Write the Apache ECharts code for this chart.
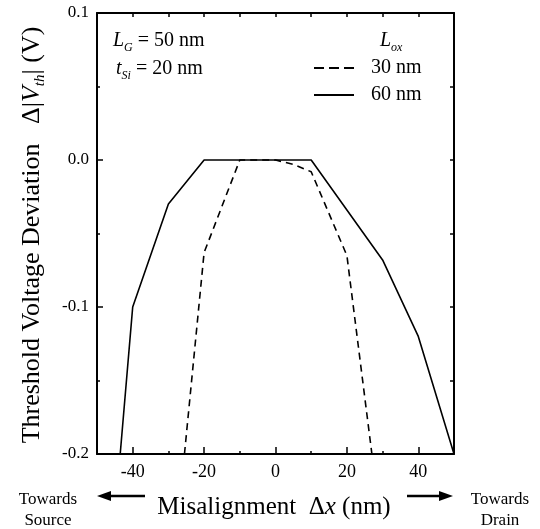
<!DOCTYPE html>
<html><head><meta charset="utf-8">
<script src="https://cdn.jsdelivr.net/npm/echarts@6/dist/echarts.min.js"></script>
<style>html,body{margin:0;padding:0;background:#fff}#c{width:540px;height:529px}</style>
</head><body><div id="c"></div>
<script>
const xTickLabels = [-40, -20, 0, 20, 40];
const yTickLabels = [0.1, 0, -0.1, -0.2];
const seriesNames = ['30 nm', '60 nm'];
const dashX = [-25.5, -20, -10, 0, 5, 10, 20, 27];
const dashY = [-0.2, -0.063, 0, 0, -0.003, -0.008, -0.065, -0.2];
const solidX = [-43.5, -40, -30, -20, -10, 0, 10, 30, 40, 50];
const solidY = [-0.2, -0.1, -0.03, 0, 0, 0, 0, -0.068, -0.12, -0.2];

const F = 'Liberation Serif';
const K = '#000';
const zip = (a, b) => a.map((v, i) => [v, b[i]]);

const chart = echarts.init(document.getElementById('c'), null, {renderer: 'canvas'});
const line = {onZero: false, lineStyle: {color: K, width: 2}};
const tick = (len, extra) => Object.assign({inside: true, length: len, lineStyle: {color: K, width: 1.5}}, extra || {});

chart.setOption({
  animation: false,
  backgroundColor: '#fff',
  grid: {left: 97, right: 86, top: 13, bottom: 75},
  xAxis: [
    {type: 'value', position: 'bottom', min: -50, max: 50, interval: 10,
     axisLine: line, axisTick: tick(3), splitLine: {show: false},
     axisLabel: {customValues: xTickLabels, fontFamily: F, fontSize: 18, color: K, margin: 9}},
    {type: 'value', position: 'top', min: -50, max: 50, interval: 10,
     axisLine: line, axisTick: tick(4), splitLine: {show: false}, axisLabel: {show: false}},
    {type: 'value', position: 'bottom', min: -50, max: 50, interval: 10,
     axisLine: {show: false, onZero: false}, axisTick: tick(7, {customValues: xTickLabels}),
     splitLine: {show: false}, axisLabel: {show: false}}
  ],
  yAxis: [
    {type: 'value', position: 'left', min: -0.2, max: 0.1, interval: 0.05,
     axisLine: line, axisTick: tick(3), splitLine: {show: false},
     axisLabel: {customValues: yTickLabels, formatter: v => v.toFixed(1), fontFamily: F, fontSize: 17, color: K, margin: 8}},
    {type: 'value', position: 'right', min: -0.2, max: 0.1, interval: 0.05,
     axisLine: line, axisTick: tick(4), splitLine: {show: false}, axisLabel: {show: false}},
    {type: 'value', position: 'left', min: -0.2, max: 0.1, interval: 0.05,
     axisLine: {show: false, onZero: false}, axisTick: tick(6, {customValues: yTickLabels}),
     splitLine: {show: false}, axisLabel: {show: false}}
  ],
  legend: {
    orient: 'vertical', left: 308, top: 53, itemWidth: 40, itemHeight: 14, itemGap: 7,
    itemStyle: {opacity: 0},
    textStyle: {fontFamily: F, fontSize: 20, color: K, padding: [0, 0, 0, 12]},
    data: [
      {name: seriesNames[0], lineStyle: {type: [10, 5], width: 2}},
      {name: seriesNames[1], lineStyle: {width: 2}}
    ]
  },
  series: [
    {name: seriesNames[0], type: 'line', xAxisIndex: 0, yAxisIndex: 0, symbol: 'none',
     lineStyle: {color: K, width: 1.6, type: [7, 5]}, itemStyle: {color: K}, data: zip(dashX, dashY)},
    {name: seriesNames[1], type: 'line', xAxisIndex: 0, yAxisIndex: 0, symbol: 'none',
     lineStyle: {color: K, width: 1.6}, itemStyle: {color: K}, data: zip(solidX, solidY)}
  ],
  graphic: [
    {type: 'text', x: 32, y: 235, rotation: Math.PI / 2,
     style: {text: '{n|Threshold Voltage Deviation   Δ|}{i|V}{s|th}{n|| (V)}', align: 'center', verticalAlign: 'middle',
       rich: {
         n: {fontFamily: F, fontSize: 26, lineHeight: 32, fill: K},
         i: {fontFamily: F, fontSize: 26, fontStyle: 'italic', lineHeight: 32, fill: K},
         s: {fontFamily: F, fontSize: 15, fontStyle: 'italic', lineHeight: 13, verticalAlign: 'bottom', fill: K}
       }}},
    {type: 'text', x: 274, y: 507,
     style: {text: '{n|Misalignment  Δ}{i|x}{n| (nm)}', align: 'center', verticalAlign: 'middle',
       rich: {
         n: {fontFamily: F, fontSize: 25, fill: K},
         i: {fontFamily: F, fontSize: 25, fontStyle: 'italic', fill: K}
       }}},
    {type: 'text', x: 48, y: 500, style: {text: 'Towards', font: '17px "Liberation Serif"', fill: K, align: 'center', verticalAlign: 'middle'}},
    {type: 'text', x: 48, y: 521, style: {text: 'Source', font: '17px "Liberation Serif"', fill: K, align: 'center', verticalAlign: 'middle'}},
    {type: 'text', x: 500, y: 500, style: {text: 'Towards', font: '17px "Liberation Serif"', fill: K, align: 'center', verticalAlign: 'middle'}},
    {type: 'text', x: 500, y: 521, style: {text: 'Drain', font: '17px "Liberation Serif"', fill: K, align: 'center', verticalAlign: 'middle'}},
    {type: 'line', shape: {x1: 108, y1: 496, x2: 145, y2: 496}, style: {stroke: K, lineWidth: 2.5}},
    {type: 'polygon', shape: {points: [[97, 496], [111, 491], [111, 501]]}, style: {fill: K}},
    {type: 'line', shape: {x1: 407, y1: 496, x2: 442, y2: 496}, style: {stroke: K, lineWidth: 2.5}},
    {type: 'polygon', shape: {points: [[453, 496], [439, 491], [439, 501]]}, style: {fill: K}},
    {type: 'text', x: 113, y: 41,
     style: {text: '{i|L}{s|G}{n| = 50 nm}', align: 'left', verticalAlign: 'middle',
       rich: {
         n: {fontFamily: F, fontSize: 20, lineHeight: 26, fill: K},
         i: {fontFamily: F, fontSize: 20, fontStyle: 'italic', lineHeight: 26, fill: K},
         s: {fontFamily: F, fontSize: 12, fontStyle: 'italic', lineHeight: 11, verticalAlign: 'bottom', fill: K}
       }}},
    {type: 'text', x: 116, y: 69,
     style: {text: '{i|t}{s|Si}{n| = 20 nm}', align: 'left', verticalAlign: 'middle',
       rich: {
         n: {fontFamily: F, fontSize: 20, lineHeight: 26, fill: K},
         i: {fontFamily: F, fontSize: 20, fontStyle: 'italic', lineHeight: 26, fill: K},
         s: {fontFamily: F, fontSize: 12, fontStyle: 'italic', lineHeight: 11, verticalAlign: 'bottom', fill: K}
       }}},
    {type: 'text', x: 380, y: 41,
     style: {text: '{i|L}{s|ox}', align: 'left', verticalAlign: 'middle',
       rich: {
         i: {fontFamily: F, fontSize: 20, fontStyle: 'italic', lineHeight: 26, fill: K},
         s: {fontFamily: F, fontSize: 12, fontStyle: 'italic', lineHeight: 11, verticalAlign: 'bottom', fill: K}
       }}}
  ]
});
</script></body></html>
